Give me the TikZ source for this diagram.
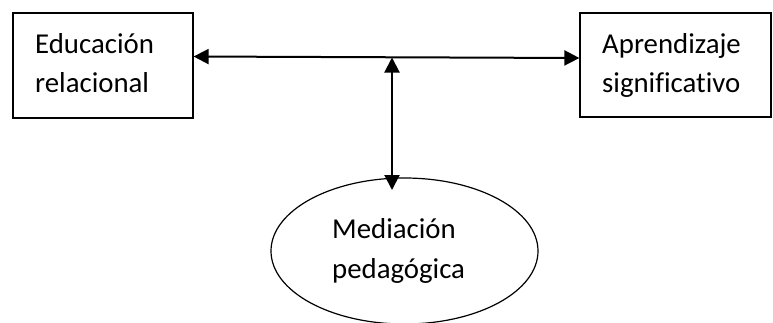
\documentclass[tikz,border=0pt]{standalone}
\usepackage{fontspec}
\setmainfont[Ligatures={NoCommon}]{Carlito}
\usetikzlibrary{arrows.meta,shapes.geometric}
\tikzset{
  boxnode/.style={draw, line width=1.2bp, inner sep=0pt},
  txt/.style={anchor=base west, inner sep=0pt, font=\fontsize{28.8bp}{34bp}\selectfont},
  conn/.style={line width=2bp, {Triangle[length=15bp,width=15bp]}-{Triangle[length=15bp,width=15bp]}},
}
\begin{document}
\begin{tikzpicture}[x=1bp,y=-1bp]
\useasboundingbox (0,0) rectangle (773,322);
\clip (0,0) rectangle (773,322);
\node[boxnode, minimum width=180bp, minimum height=105bp] (L) at (103,65.5) {};
\node[boxnode, minimum width=191bp, minimum height=104bp] (R) at (675.5,65) {};
\node[boxnode, ellipse, minimum width=267bp, minimum height=146bp] (E) at (404.5,251) {};
\node[txt] (l1) at (35,53) {Educación};
\node[txt] (l2) at (35,92) {relacional};
\node[txt] (r1) at (602,53) {Aprendizaje};
\node[txt] (r2) at (602,92) {significativo};
\node[txt] (e1) at (332,238) {Mediación};
\node[txt] (e2) at (332,278) {pedagógica};
\coordinate (hl) at (L.east |- 0,56.5);
\coordinate (hr) at (R.west |- 0,58);
\coordinate (vt) at (392,57.5);
\coordinate (vb) at (392,190);
\draw[conn] (hl) -- (hr);
\draw[conn] (vt) -- (vb);
\end{tikzpicture}
\end{document}
